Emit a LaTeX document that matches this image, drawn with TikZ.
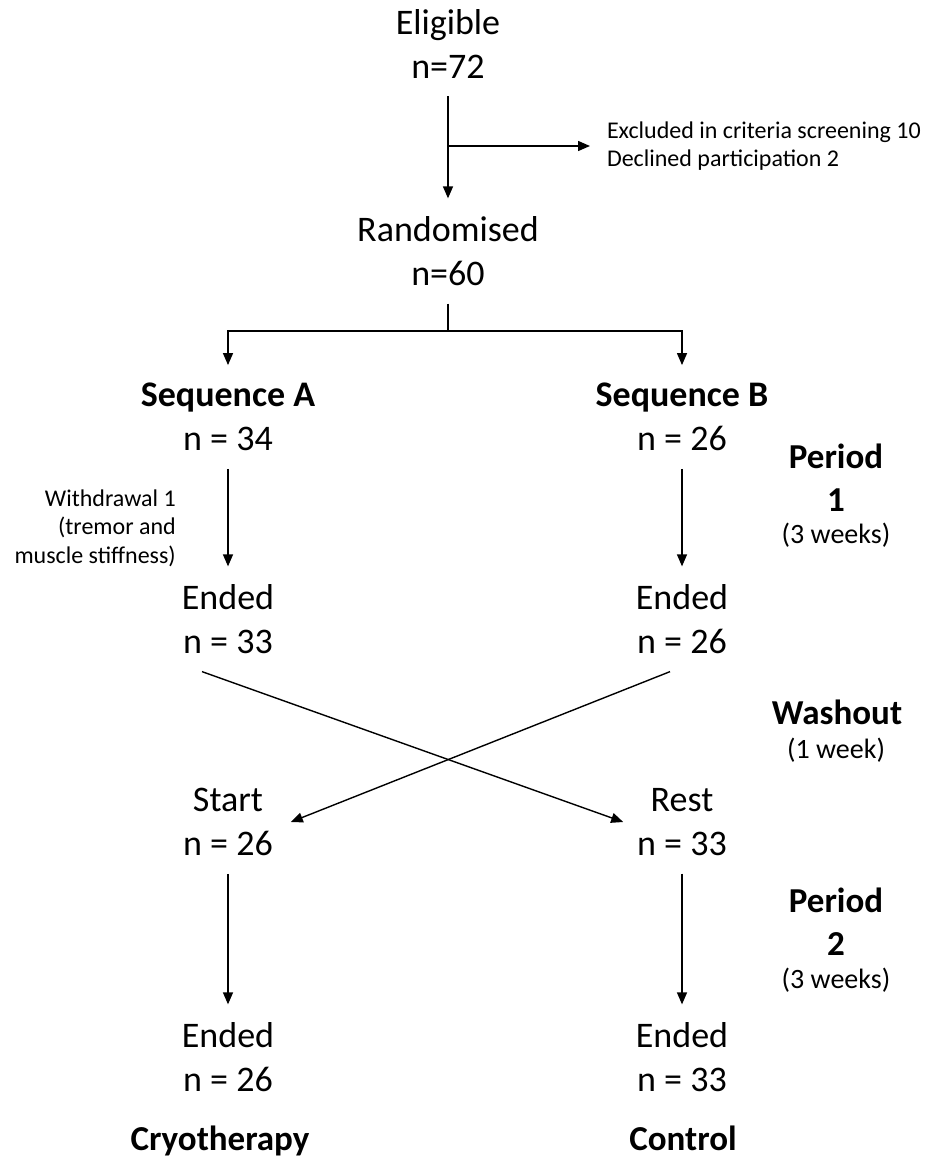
\documentclass[tikz,border=0pt]{standalone}
\usepackage{fontspec}
\setmainfont{Carlito}
\usetikzlibrary{arrows.meta}
\begin{document}
\begin{tikzpicture}[x=1pt,y=-1pt,
 grp/.style={inner sep=0pt,outer sep=18pt,align=center,font=\fontsize{36}{44}\selectfont},
 small/.style={inner sep=0pt,font=\fontsize{24}{27.5}\selectfont},
 lbl/.style={inner sep=0pt,align=center,font=\fontsize{35}{43}\selectfont\bfseries},
 sub/.style={inner sep=0pt,font=\fontsize{28}{32}\selectfont},
 arr/.style={line width=1.4pt,-{Triangle[length=12pt,width=10pt]}},
 ln/.style={line width=1.4pt}]
\useasboundingbox[fill=white] (0,0) rectangle (936,1161);
% top
\node[grp] (elig) at (448,44) {Eligible\\n=72};
\coordinate (branch) at (448,146);
\node[grp] (rand) at (448,251) {Randomised\\n=60};
\node[small,align=left,anchor=west,outer sep=17pt] (excl) at (590,146) {Excluded in criteria screening 10\\Declined participation 2};
\draw[arr] (elig.south) -- (rand.north);
\draw[arr] (branch) -- (excl.west);
% split
\coordinate (split) at (448,331);
\node[grp] (seqA) at (228,417) {{\bfseries Sequence A}\\n = 34};
\node[grp] (seqB) at (682,417) {{\bfseries Sequence B}\\n = 26};
\draw[ln] (rand.south) -- (split);
\draw[arr] (split) -| (seqA.north);
\draw[arr] (split) -| (seqB.north);
% period 1
\node[grp] (endA) at (228,619) {Ended\\n = 33};
\node[grp] (endB) at (682,619) {Ended\\n = 26};
\draw[arr] (seqA.south) -- (endA.north);
\draw[arr] (seqB.south) -- (endB.north);
\node[small,align=right,anchor=east,font=\fontsize{24}{28.5}\selectfont] (wd) at (176,528) {Withdrawal 1\\(tremor and\\muscle stiffness)};
% crossover
\node[grp] (start) at (228,822) {Start\\n = 26};
\node[grp] (rest) at (682,822) {Rest\\n = 33};
\draw[arr] ([xshift=-26pt]endA.south) -- ([xshift=4pt]rest.west);
\draw[arr] ([xshift=-12pt]endB.south) -- (start.east);
% period 2
\node[grp] (endC) at (228,1057) {Ended\\n = 26};
\node[grp] (endD) at (682,1057) {Ended\\n = 33};
\draw[arr] (start.south) -- (endC.north);
\draw[arr] (rest.south) -- (endD.north);
\node[lbl,anchor=base] (cryo) at (220,1150) {Cryotherapy};
\node[lbl,anchor=base] (ctrl) at (683,1150) {Control};
% side labels
\node[lbl] (p1) at (836,478) {Period\\1};
\node[sub] (p1w) at (836,535) {(3 weeks)};
\node[lbl] (wash) at (837,712) {Washout};
\node[sub] (washw) at (836,750) {(1 week)};
\node[lbl] (p2) at (836,922) {Period\\2};
\node[sub] (p2w) at (836,980) {(3 weeks)};
\end{tikzpicture}
\end{document}
